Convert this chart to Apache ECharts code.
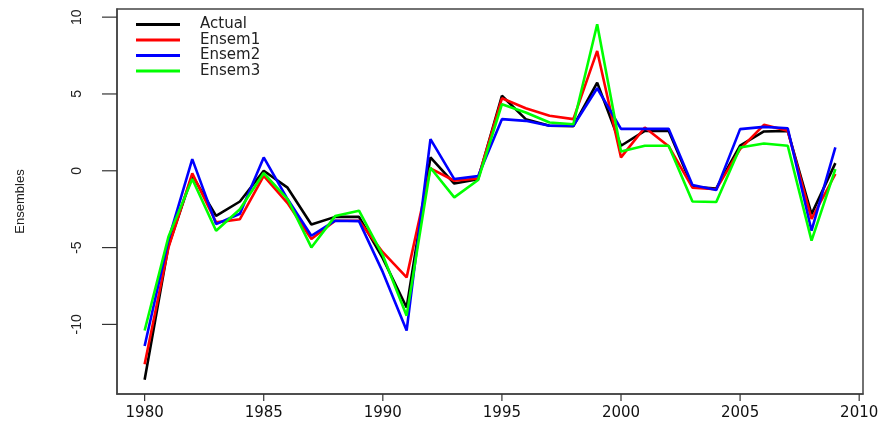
<!DOCTYPE html>
<html>
<head>
<meta charset="utf-8">
<script src="https://cdn.jsdelivr.net/npm/echarts@6/dist/echarts.min.js"></script>
<style>
html,body{margin:0;padding:0;background:#fff;}
#chart{width:887px;height:429px;}
</style>
</head>
<body>
<div id="chart"></div>
<script>
var years = [1980,1981,1982,1983,1984,1985,1986,1987,1988,1989,1990,1991,1992,1993,1994,1995,1996,1997,1998,1999,2000,2001,2002,2003,2004,2005,2006,2007,2008,2009];
var actual = [-13.6,-4.9,-0.3,-2.93,-2.0,0,-1.1,-3.5,-3.0,-3.0,-5.7,-8.9,0.87,-0.83,-0.55,4.88,3.36,2.93,2.9,5.74,1.63,2.6,2.6,-1.05,-1.15,1.63,2.56,2.6,-2.82,0.5];
var ensem1 = [-12.6,-5.0,-0.17,-3.36,-3.15,-0.33,-2.1,-4.44,-3.25,-3.25,-5.3,-6.94,0.15,-0.65,-0.5,4.72,4.07,3.58,3.36,7.8,0.87,2.82,1.6,-1.1,-1.2,1.41,2.99,2.6,-3.14,-0.21];
var ensem2 = [-11.4,-4.5,0.76,-3.47,-2.8,0.87,-1.84,-4.23,-3.25,-3.28,-6.6,-10.4,2.06,-0.54,-0.35,3.36,3.25,2.93,2.93,5.37,2.73,2.73,2.73,-0.93,-1.25,2.71,2.86,2.77,-3.9,1.52];
var ensem3 = [-10.4,-4.3,-0.54,-3.9,-2.5,-0.15,-1.84,-4.99,-2.95,-2.6,-5.5,-9.43,0.2,-1.73,-0.6,4.33,3.79,3.14,3.03,9.54,1.25,1.63,1.63,-2.0,-2.03,1.52,1.78,1.63,-4.55,0.11];
var xTicks = [1980,1985,1990,1995,2000,2005,2010];
var yTicks = [-10,-5,0,5,10];
var seriesNames = ['Actual','Ensem1','Ensem2','Ensem3'];
var seriesColors = ['#000000','#ff0000','#0000ff','#00ff00'];

var X_MIN = 1978.84, X_MAX = 2010.16, Y_MIN = -14.53, Y_MAX = 10.53;

function pairs(vals){ return years.map(function(y,i){ return [y, vals[i]]; }); }
var allVals = [actual, ensem1, ensem2, ensem3];

var lineSeries = seriesNames.map(function(n,i){
  return {name:n,type:'line',data:pairs(allVals[i]),symbol:'none',z:3,
    lineStyle:{color:seriesColors[i],width:2.6},itemStyle:{color:seriesColors[i]}};
});

// axis tick marks (outward), placed through the axes' scales
var tickSeries = [
  {type:'custom', silent:true, clip:false, z:1,
   data:xTicks.map(function(v){return [v, Y_MIN];}),
   renderItem:function(params, api){
     var p = api.coord([api.value(0), api.value(1)]);
     return {type:'line', shape:{x1:p[0],y1:p[1],x2:p[0],y2:p[1]+7}, style:{stroke:'#333',lineWidth:1.2}};
   }},
  {type:'custom', silent:true, clip:false, z:1,
   data:yTicks.map(function(v){return [X_MIN, v];}),
   renderItem:function(params, api){
     var p = api.coord([api.value(0), api.value(1)]);
     return {type:'line', shape:{x1:p[0]-15,y1:p[1],x2:p[0],y2:p[1]}, style:{stroke:'#333',lineWidth:1.2}};
   }}
];

var chart = echarts.init(document.getElementById('chart'));
chart.setOption({
  animation:false,
  backgroundColor:'#ffffff',
  grid:{left:117,right:24,top:9,bottom:35,show:true,borderColor:'#444',borderWidth:1.5,backgroundColor:'transparent'},
  legend:{
    orient:'vertical', left:136, top:17, padding:0, itemGap:0.5,
    itemWidth:44, itemHeight:3, icon:'rect',
    textStyle:{fontFamily:'DejaVu Sans',fontSize:15,color:'#222',lineHeight:15,padding:[0,0,0,15]},
    data:seriesNames.map(function(n,i){return {name:n,itemStyle:{color:seriesColors[i]}};})
  },
  xAxis:{
    type:'value', min:X_MIN, max:X_MAX,
    axisLine:{show:true,onZero:false,lineStyle:{color:'#444',width:1.5}},
    splitLine:{show:false},
    axisTick:{show:false},
    axisLabel:{customValues:xTicks,margin:12,fontFamily:'DejaVu Sans',fontSize:15,color:'#111',formatter:function(v){return String(v);}}
  },
  yAxis:{
    type:'value', min:Y_MIN, max:Y_MAX,
    name:'Ensembles', nameLocation:'middle', nameRotate:90, nameGap:90,
    nameTextStyle:{fontFamily:'Liberation Sans',fontSize:13,color:'#222'},
    axisLine:{show:true,onZero:false,lineStyle:{color:'#444',width:1.5}},
    splitLine:{show:false},
    axisTick:{show:false},
    axisLabel:{customValues:yTicks,rotate:90,margin:33,fontFamily:'Liberation Sans',fontSize:14,color:'#222',formatter:function(v){return String(v);}}
  },
  series:lineSeries.concat(tickSeries)
});
</script>
</body>
</html>
